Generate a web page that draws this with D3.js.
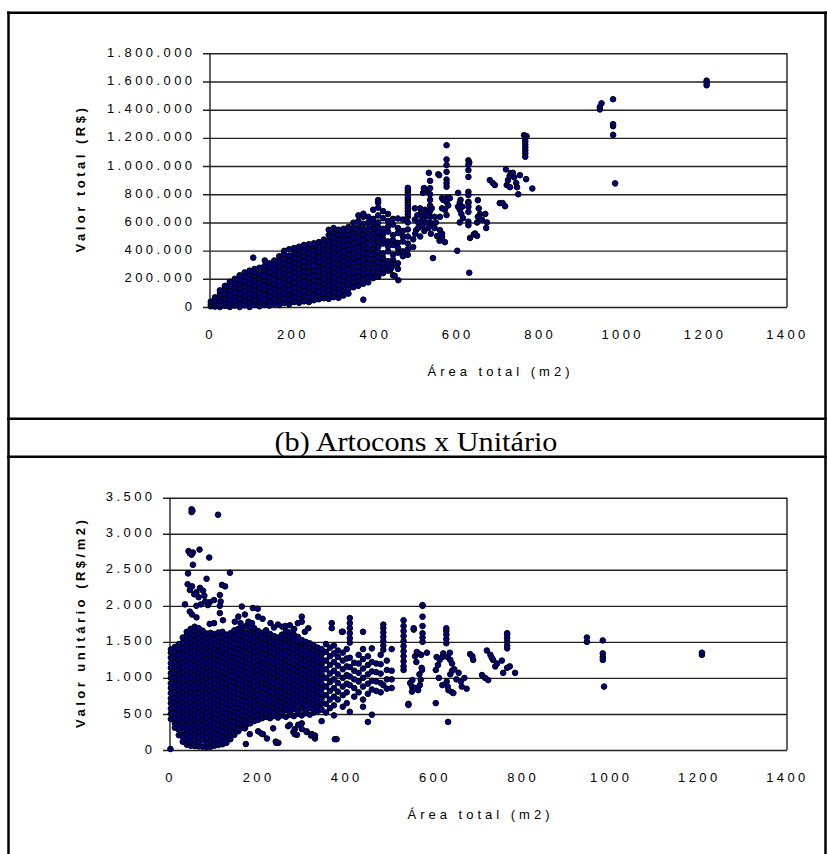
<!DOCTYPE html>
<html>
<head>
<meta charset="utf-8">
<script src="https://cdn.jsdelivr.net/npm/d3@7"></script>
<style>
  html, body { margin: 0; padding: 0; background: #fff; }
  svg { display: block; }
</style>
</head>
<body>
<svg id="fig" width="827" height="854"></svg>
<script>
// ---- Eixos ----
const ticksArea = [0, 200, 400, 600, 800, 1000, 1200, 1400];
const ticksValorTotal = [0, 200000, 400000, 600000, 800000, 1000000, 1200000, 1400000, 1600000, 1800000];
const ticksUnitario = [0, 500, 1000, 1500, 2000, 2500, 3000, 3500];

// ---- (a) Área total (m2) x Valor total (mil R$), agrupado por área ----
const valorTotalColunas = [
  [2, [5, 20, 38]],
  [12, [3, 22, 45, 68]],
  [24, [0, 15, 40, 70, 95, 118]],
  [36, [8, 30, 60, 92, 125, 150]],
  [48, [0, 25, 55, 85, 115, 148, 178]],
  [60, [10, 40, 72, 105, 140, 170, 200]],
  [72, [0, 28, 60, 95, 130, 162, 195, 225]],
  [84, [12, 45, 80, 112, 148, 180, 215, 245]],
  [96, [0, 30, 62, 98, 130, 165, 200, 232, 258]],
  [108, [15, 48, 82, 118, 150, 185, 220, 250, 270]],
  [120, [5, 35, 68, 100, 135, 170, 205, 240, 278]],
  [132, [18, 52, 88, 120, 155, 190, 225, 258, 290]],
  [144, [10, 40, 75, 108, 142, 178, 212, 248, 282, 310]],
  [156, [22, 58, 92, 128, 162, 198, 232, 268, 300, 330]],
  [168, [15, 45, 80, 115, 150, 185, 220, 255, 290, 325, 360]],
  [180, [28, 62, 98, 132, 168, 202, 238, 272, 308, 342, 375, 398]],
  [192, [20, 55, 88, 122, 158, 192, 228, 262, 298, 332, 365, 410]],
  [204, [35, 70, 105, 140, 175, 210, 245, 280, 315, 350, 385, 418]],
  [216, [30, 62, 95, 130, 165, 200, 235, 270, 305, 340, 375, 405, 428]],
  [228, [40, 78, 112, 148, 182, 218, 252, 288, 322, 358, 392, 425, 440]],
  [240, [35, 68, 102, 138, 172, 208, 242, 278, 312, 348, 382, 415, 445]],
  [252, [48, 85, 120, 155, 190, 225, 260, 295, 330, 365, 400, 432, 452]],
  [264, [55, 80, 112, 145, 180, 215, 250, 285, 320, 355, 390, 425, 460]],
  [276, [62, 95, 130, 165, 200, 235, 270, 305, 340, 375, 410, 445, 478]],
  [288, [58, 88, 120, 155, 190, 225, 260, 295, 330, 365, 400, 435, 470, 510, 548]],
  [300, [70, 105, 140, 175, 210, 245, 280, 315, 350, 385, 420, 455, 490, 525, 560]],
  [312, [65, 95, 128, 162, 198, 232, 268, 302, 338, 372, 408, 442, 478, 512, 548]],
  [324, [82, 118, 152, 188, 222, 258, 292, 328, 362, 398, 432, 468, 502, 538, 555]],
  [336, [95, 130, 165, 200, 235, 270, 305, 340, 375, 410, 445, 480, 515, 545, 568]],
  [348, [140, 175, 210, 245, 280, 315, 350, 385, 420, 455, 490, 525, 560, 598]],
  [360, [150, 182, 218, 252, 288, 322, 358, 392, 428, 462, 498, 532, 568, 610, 650]],
  [372, [165, 200, 235, 270, 305, 340, 375, 410, 445, 480, 515, 550, 590, 640, 662]],
  [384, [175, 210, 245, 280, 315, 350, 385, 420, 455, 490, 525, 560, 600, 640]],
  [396, [205, 240, 275, 310, 345, 380, 415, 450, 485, 520, 555, 590, 625, 690]],
  [408, [215, 250, 285, 320, 355, 390, 425, 460, 495, 530, 565, 600, 650, 705, 740, 758]],
  [420, [240, 275, 310, 345, 380, 450, 485, 520, 555, 630, 680]],
  [432, [258, 290, 325, 395, 430, 465, 535, 570, 610, 660]],
  [444, [225, 300, 335, 370, 440, 475, 510, 585, 625]],
  [456, [270, 310, 385, 420, 455, 525, 560, 628]],
  [468, [360, 395, 465, 500, 540, 620]],
  [480, [370, 410, 450, 500, 550, 600, 640, 660, 680, 700, 720, 740, 758, 775, 792, 810, 828, 845]]
];
const valorTotalAvulsos = [
  [105, 350], [133, 330], [372, 52], [457, 190], [448, 222], [437, 262], [440, 278], [404, 215], [395, 245],
  [493, 425], [497, 700], [500, 545], [505, 600], [510, 660], [515, 575], [520, 640], [522, 690],
  [517, 810], [520, 843], [526, 815], [530, 830], [531, 952], [534, 895], [534, 843], [534, 800],
  [534, 760], [534, 720], [534, 680], [534, 640], [534, 600], [519, 843], [554, 942], [556, 935],
  [493, 480], [498, 520], [505, 560], [510, 500], [515, 620], [520, 540], [525, 600], [530, 560],
  [536, 520], [540, 580], [497, 620], [503, 650], [510, 700], [518, 680], [528, 650], [538, 700],
  [545, 640], [548, 600], [545, 560],
  [574, 1148], [574, 1047], [574, 1007], [574, 959], [574, 905], [574, 879], [574, 853], [574, 773],
  [574, 745], [574, 652], [563, 772], [566, 760], [582, 772], [563, 700], [558, 640], [570, 690], [578, 720],
  [541, 347], [551, 503], [557, 470], [563, 495], [570, 460], [558, 545], [563, 520], [600, 399],
  [627, 1040], [629, 1025], [627, 1010], [627, 971], [627, 923], [627, 817], [627, 794], [627, 746],
  [627, 737], [627, 711], [627, 675], [627, 605], [627, 580],
  [602, 810], [608, 760], [606, 740], [602, 712], [606, 690], [612, 712], [606, 600], [610, 660], [614, 630],
  [631, 490], [640, 515], [643, 522], [648, 505], [629, 243],
  [650, 758], [652, 700], [655, 660], [650, 640], [648, 600], [660, 620], [668, 660], [670, 560], [672, 600],
  [679, 900], [686, 880], [691, 865], [703, 737], [710, 737], [716, 715],
  [718, 976], [723, 900], [727, 930], [730, 950], [735, 952], [738, 920], [743, 880], [745, 850],
  [720, 865], [728, 850], [748, 800], [752, 935], [767, 907], [782, 841],
  [762, 1219], [768, 1212], [765, 1192], [765, 1172], [765, 1152], [765, 1132], [765, 1112], [765, 1090], [765, 1066],
  [946, 1402], [946, 1420], [950, 1445], [978, 1474], [978, 1283], [978, 1297], [978, 1221], [983, 877],
  [1205, 1573], [1205, 1590], [1205, 1606]
];

// ---- (b) Área total (m2) x Valor unitário (R$/m2), agrupado por área ----
const unitarioColunas = [
  [2, [430, 505, 575, 650, 715, 790, 860, 925, 1000, 1065, 1140, 1205, 1280, 1350, 1395]],
  [11, [310, 375, 450, 515, 590, 655, 730, 795, 870, 935, 1010, 1075, 1150, 1215, 1290, 1355, 1430]],
  [20, [205, 280, 345, 420, 485, 560, 625, 700, 765, 840, 905, 980, 1045, 1120, 1185, 1260, 1325, 1400, 1470]],
  [29, [115, 180, 250, 320, 390, 455, 525, 595, 665, 730, 800, 870, 940, 1005, 1075, 1145, 1215, 1280, 1350, 1420, 1490, 1560]],
  [38, [75, 145, 215, 285, 350, 420, 490, 560, 630, 695, 765, 835, 905, 970, 1040, 1110, 1180, 1245, 1315, 1385, 1455, 1520, 1590, 1640]],
  [47, [60, 110, 180, 250, 320, 385, 455, 525, 595, 660, 730, 800, 870, 935, 1005, 1075, 1145, 1210, 1280, 1350, 1420, 1485, 1555, 1625, 1680]],
  [56, [55, 140, 215, 285, 355, 420, 490, 560, 630, 695, 765, 835, 905, 970, 1040, 1110, 1180, 1245, 1315, 1385, 1455, 1520, 1590, 1660, 1710]],
  [65, [50, 105, 175, 245, 315, 380, 450, 520, 590, 655, 725, 795, 865, 930, 1000, 1070, 1140, 1205, 1275, 1345, 1415, 1480, 1550, 1620, 1690]],
  [74, [45, 135, 210, 280, 350, 415, 485, 555, 625, 690, 760, 830, 900, 965, 1035, 1105, 1175, 1240, 1310, 1380, 1450, 1515, 1585, 1655]],
  [83, [40, 100, 170, 240, 310, 375, 445, 515, 585, 650, 720, 790, 860, 925, 995, 1065, 1135, 1200, 1270, 1340, 1410, 1475, 1545, 1615]],
  [92, [45, 130, 205, 275, 345, 410, 480, 550, 620, 685, 755, 825, 895, 960, 1030, 1100, 1170, 1235, 1305, 1375, 1445, 1510, 1580, 1625]],
  [101, [60, 95, 165, 235, 305, 370, 440, 510, 580, 645, 715, 785, 855, 920, 990, 1060, 1130, 1195, 1265, 1335, 1405, 1470, 1540, 1610]],
  [110, [70, 140, 210, 280, 345, 415, 485, 555, 620, 690, 760, 830, 895, 965, 1035, 1105, 1170, 1240, 1310, 1380, 1445, 1515, 1585, 1630]],
  [119, [80, 120, 185, 255, 325, 390, 460, 530, 600, 665, 735, 805, 875, 940, 1010, 1080, 1150, 1215, 1285, 1355, 1425, 1490, 1560, 1640]],
  [128, [100, 160, 230, 300, 365, 435, 505, 575, 640, 710, 780, 850, 915, 985, 1055, 1125, 1190, 1260, 1330, 1400, 1465, 1535, 1600]],
  [137, [150, 200, 270, 340, 410, 475, 545, 615, 685, 750, 820, 890, 960, 1025, 1095, 1165, 1235, 1300, 1370, 1440, 1510, 1575, 1620]],
  [146, [210, 250, 320, 385, 455, 525, 595, 660, 730, 800, 870, 935, 1005, 1075, 1145, 1210, 1280, 1350, 1420, 1485, 1555, 1625, 1660]],
  [155, [260, 300, 365, 435, 505, 575, 640, 710, 780, 850, 915, 985, 1055, 1125, 1190, 1260, 1330, 1400, 1465, 1535, 1605, 1680]],
  [164, [310, 345, 410, 480, 550, 620, 685, 755, 825, 895, 960, 1030, 1100, 1170, 1235, 1305, 1375, 1445, 1510, 1580, 1650, 1700]],
  [173, [350, 390, 460, 530, 600, 665, 735, 805, 875, 940, 1010, 1080, 1150, 1215, 1285, 1355, 1425, 1490, 1560, 1630, 1720]],
  [182, [370, 430, 500, 570, 640, 705, 775, 845, 915, 980, 1050, 1120, 1190, 1255, 1325, 1395, 1465, 1530, 1600, 1670, 1700]],
  [191, [400, 470, 540, 610, 675, 745, 815, 885, 950, 1020, 1090, 1160, 1225, 1295, 1365, 1435, 1500, 1570, 1640, 1690]],
  [200, [420, 490, 560, 630, 695, 765, 835, 905, 970, 1040, 1110, 1180, 1245, 1315, 1385, 1455, 1520, 1590, 1650]],
  [209, [440, 525, 595, 665, 730, 800, 870, 940, 1005, 1075, 1145, 1215, 1280, 1350, 1420, 1490, 1555, 1625]],
  [218, [460, 500, 570, 640, 705, 775, 845, 915, 980, 1050, 1120, 1190, 1255, 1325, 1395, 1465, 1530, 1600, 1660]],
  [227, [440, 535, 605, 675, 740, 810, 880, 950, 1015, 1085, 1155, 1225, 1290, 1360, 1430, 1500, 1565, 1610]],
  [236, [470, 510, 580, 650, 715, 785, 855, 925, 990, 1060, 1130, 1200, 1265, 1335, 1405, 1475, 1540, 1580]],
  [245, [450, 545, 615, 685, 750, 820, 890, 960, 1025, 1095, 1165, 1235, 1300, 1370, 1440, 1510, 1560]],
  [254, [480, 520, 590, 660, 725, 795, 865, 935, 1000, 1070, 1140, 1210, 1275, 1345, 1415, 1485, 1550, 1600]],
  [263, [460, 555, 625, 695, 760, 830, 900, 970, 1035, 1105, 1175, 1245, 1310, 1380, 1450, 1520, 1590, 1650]],
  [272, [490, 530, 600, 670, 735, 805, 875, 945, 1010, 1080, 1150, 1220, 1285, 1355, 1425, 1495, 1560, 1630]],
  [281, [470, 565, 635, 705, 770, 840, 910, 980, 1045, 1115, 1185, 1255, 1320, 1390, 1460, 1530, 1600]],
  [290, [500, 540, 610, 680, 745, 815, 885, 955, 1020, 1090, 1160, 1230, 1295, 1365, 1435, 1505, 1570]],
  [299, [480, 575, 645, 715, 780, 850, 920, 990, 1055, 1125, 1195, 1265, 1330, 1400, 1470, 1525]],
  [308, [510, 550, 620, 690, 755, 825, 895, 965, 1030, 1100, 1170, 1240, 1305, 1375, 1445, 1500]],
  [317, [490, 585, 655, 725, 790, 860, 930, 1000, 1065, 1135, 1205, 1275, 1340, 1410, 1480]],
  [326, [520, 560, 630, 700, 765, 835, 905, 975, 1040, 1110, 1180, 1250, 1315, 1385, 1450]],
  [335, [540, 600, 670, 740, 805, 875, 945, 1015, 1080, 1150, 1220, 1290, 1355, 1420]],
  [344, [560, 640, 710, 780, 850, 915, 985, 1055, 1125, 1190, 1260, 1330, 1400]],
  [354, [520, 640, 760, 880, 1000, 1120, 1240, 1360, 1470]],
  [363, [580, 700, 820, 940, 1060, 1180, 1300, 1420]],
  [372, [480, 620, 740, 860, 980, 1100, 1220, 1340, 1450]],
  [381, [700, 810, 930, 1050, 1170, 1290, 1380]],
  [392, [600, 760, 880, 1000, 1120, 1240, 1350, 1640]],
  [401, [650, 800, 920, 1040, 1160, 1270, 1400]],
  [408, [530, 900, 1020, 1150, 1280, 1490, 1550, 1620, 1690, 1760, 1830]],
  [418, [740, 860, 980, 1100, 1210]],
  [428, [800, 950, 1070, 1200, 1320]],
  [438, [600, 700, 880, 1000, 1130, 1260, 1400, 1640]],
  [449, [390, 780, 920, 1050, 1180, 1300]],
  [458, [490, 840, 960, 1090, 1220, 1410]],
  [468, [820, 950, 1080, 1200]],
  [478, [800, 930, 1060, 1190, 1320]],
  [484, [900, 1390, 1450, 1510, 1570, 1630, 1690, 1740]],
  [492, [850, 980, 1110, 1240]],
  [503, [860, 980, 1100, 1400]],
  [530, [1110, 1160, 1230, 1300, 1370, 1440, 1510, 1580, 1650, 1720, 1800]],
  [573, [1500, 1560, 1620, 1720, 1850, 2000, 2010]],
  [627, [1480, 1540, 1600, 1650, 1690]],
  [765, [1410, 1450, 1500, 1550, 1600, 1620]]
];
const unitarioAvulsos = [
  [1, 14],
  [49, 3300], [49, 3340], [51, 3320], [109, 3264],
  [42, 2760], [49, 2710], [52, 2740], [67, 2780], [89, 2670], [45, 2730],
  [52, 2570], [41, 2450], [136, 2460], [83, 2375],
  [40, 2300], [45, 2220], [50, 2270], [60, 2190], [68, 2250], [75, 2210], [78, 2140], [65, 2120],
  [55, 2160], [118, 2290], [125, 2270], [113, 2150], [115, 2060], [113, 2000], [100, 2080], [90, 2050],
  [80, 2060], [70, 2020], [60, 2000], [34, 2020], [86, 2010],
  [45, 1920], [50, 1880], [60, 1840], [90, 1750], [100, 1760], [113, 1900], [120, 1800], [147, 1780],
  [155, 1850], [163, 1990], [170, 1880], [188, 1970], [199, 1960], [200, 1850], [210, 1820], [245, 1740],
  [255, 1710], [299, 1850], [299, 1780], [314, 1690], [272, 1730], [290, 1760],
  [178, 1780], [186, 1760], [228, 1760], [236, 1700], [262, 1720], [306, 1640], [282, 1680], [160, 1760],
  [367, 1760], [367, 1690], [390, 1640],
  [246, 100], [172, 83], [207, 230], [220, 160], [240, 116], [268, 330], [280, 250], [288, 210],
  [299, 370], [310, 260], [320, 200], [329, 160], [378, 150], [170, 300], [181, 220], [200, 260],
  [211, 220], [234, 300], [241, 100], [272, 350], [283, 290], [283, 220], [291, 350], [299, 290],
  [310, 250], [322, 220], [329, 200], [344, 400], [374, 150],
  [541, 640], [541, 625], [545, 930], [550, 970], [549, 880], [553, 1670], [553, 1690],
  [556, 1300], [563, 1340], [570, 1320], [583, 1350], [560, 1360], [559, 1220], [571, 1140],
  [549, 810], [556, 860], [563, 830], [567, 900], [569, 975], [572, 1110], [566, 1050],
  [603, 650], [631, 390],
  [603, 1110], [608, 1180], [612, 1250], [618, 1290], [630, 1290], [636, 1250], [640, 1200],
  [605, 1290], [620, 1340], [635, 1350],
  [610, 1000], [618, 900], [630, 880], [636, 1050], [640, 1100], [645, 1120], [650, 980], [660, 950],
  [668, 1000], [673, 850], [655, 1070], [632, 830], [640, 800], [643, 790], [628, 950], [662, 880],
  [681, 1330], [686, 1300], [688, 1250], [708, 1040], [715, 1000], [722, 970],
  [719, 1380], [727, 1320], [733, 1250], [738, 1160], [742, 1200], [730, 1280],
  [753, 1240], [756, 1070], [771, 1160], [783, 1070], [765, 1140],
  [946, 1500], [946, 1560], [982, 1520], [982, 1340], [982, 1290], [982, 1250], [985, 880],
  [1207, 1320], [1207, 1350]
];

// ---- Formatação brasileira ----
const br = d3.formatLocale({ decimal: ",", thousands: ".", grouping: [3], currency: ["R$ ", ""] });
const fmt = br.format(",d");

const expandir = cols => cols.flatMap(([a, vs]) => vs.map(v => [a, v]));

const svg = d3.select("#fig");
const SANS = "'Liberation Sans', Arial, sans-serif";
const LS = 3.4; // espaçamento entre letras dos rótulos

// ---- Moldura da tabela ----
const moldura = svg.append("g").attr("stroke", "#000").attr("stroke-width", 2.5).attr("fill", "none");
moldura.append("line").attr("x1", 8.5).attr("x2", 8.5).attr("y1", 11.5).attr("y2", 854);
moldura.append("line").attr("x1", 825.5).attr("x2", 825.5).attr("y1", 11.5).attr("y2", 854);
moldura.append("line").attr("x1", 7).attr("x2", 827).attr("y1", 12.7).attr("y2", 12.7);
moldura.append("line").attr("x1", 7).attr("x2", 827).attr("y1", 418.7).attr("y2", 418.7);
moldura.append("line").attr("x1", 7).attr("x2", 827).attr("y1", 456.7).attr("y2", 456.7);

svg.append("text")
  .attr("transform", "translate(416,450.5) scale(1.12,1)")
  .attr("text-anchor", "middle")
  .style("font-family", "'Liberation Serif', 'Times New Roman', serif")
  .style("font-size", "27px")
  .text("(b) Artocons x Unitário");

function painel(o) {
  const g = svg.append("g");
  const x = d3.scaleLinear([0, 1400], [o.left, o.right]);
  const y = d3.scaleLinear([0, o.yTicks[o.yTicks.length - 1]], [o.bottom, o.top]);
  const w = o.right - o.left;

  // grade horizontal + marcas do eixo Y
  const eixoY = d3.axisLeft(y).tickValues(o.yTicks).tickSize(-(w + 7)).tickPadding(o.left - 7 - o.labelRight - LS).tickFormat(fmt);
  const gy = g.append("g").attr("transform", `translate(${o.left - 7},0)`).call(eixoY);
  gy.select(".domain").remove();
  gy.selectAll(".tick line").attr("stroke", "#222").attr("stroke-width", 1.4);
  gy.selectAll(".tick text")
    .attr("dy", "0.35em").attr("y", -1.5)
    .style("font-family", SANS).style("font-size", "13px").style("letter-spacing", LS + "px")
    .attr("fill", "#000");

  // eixo X (somente rótulos)
  const eixoX = d3.axisBottom(x).tickValues(ticksArea).tickSize(0).tickPadding(0).tickFormat(d3.format("d"));
  const gx = g.append("g").attr("transform", `translate(0,${o.bottom})`).call(eixoX);
  gx.select(".domain").remove();
  gx.selectAll(".tick text")
    .attr("y", 31.5).attr("dy", null)
    .style("font-family", SANS).style("font-size", "13px").style("letter-spacing", LS + "px")
    .attr("fill", "#000");

  // bordas verticais da área de plotagem
  g.append("line").attr("x1", o.left).attr("x2", o.left).attr("y1", o.top).attr("y2", o.bottom)
    .attr("stroke", "#222").attr("stroke-width", 1.4);
  g.append("line").attr("x1", o.right).attr("x2", o.right).attr("y1", o.top).attr("y2", o.bottom)
    .attr("stroke", "#222").attr("stroke-width", 1.4);

  // títulos dos eixos
  g.append("text")
    .attr("x", (o.left + o.right) / 2 + 2).attr("y", o.bottom + 68.5)
    .attr("text-anchor", "middle")
    .style("font-family", SANS).style("font-size", "13px").style("letter-spacing", "4px")
    .text("Área total (m2)");
  g.append("text")
    .attr("transform", `translate(84.5,${(o.top + o.bottom) / 2 - 1.5}) rotate(-90)`)
    .attr("text-anchor", "middle")
    .style("font-family", SANS).style("font-size", "13px").style("font-weight", "bold").style("letter-spacing", "3.5px")
    .text(o.yTitulo);

  // pontos
  g.append("g").selectAll("circle").data(o.pontos).join("circle")
    .attr("cx", d => x(d[0])).attr("cy", d => y(d[1]))
    .attr("r", 2.8)
    .attr("fill", "#000080").attr("stroke", "#000").attr("stroke-width", 1);
}

painel({
  left: 210, right: 787, top: 53.3, bottom: 307, labelRight: 192,
  yTicks: ticksValorTotal,
  yTitulo: "Valor total (R$)",
  pontos: expandir(valorTotalColunas).concat(valorTotalAvulsos).map(([a, v]) => [a, v * 1000])
});

painel({
  left: 170, right: 787, top: 497.7, bottom: 750, labelRight: 152,
  yTicks: ticksUnitario,
  yTitulo: "Valor unitário (R$/m2)",
  pontos: expandir(unitarioColunas).concat(unitarioAvulsos)
});
</script>
</body>
</html>
